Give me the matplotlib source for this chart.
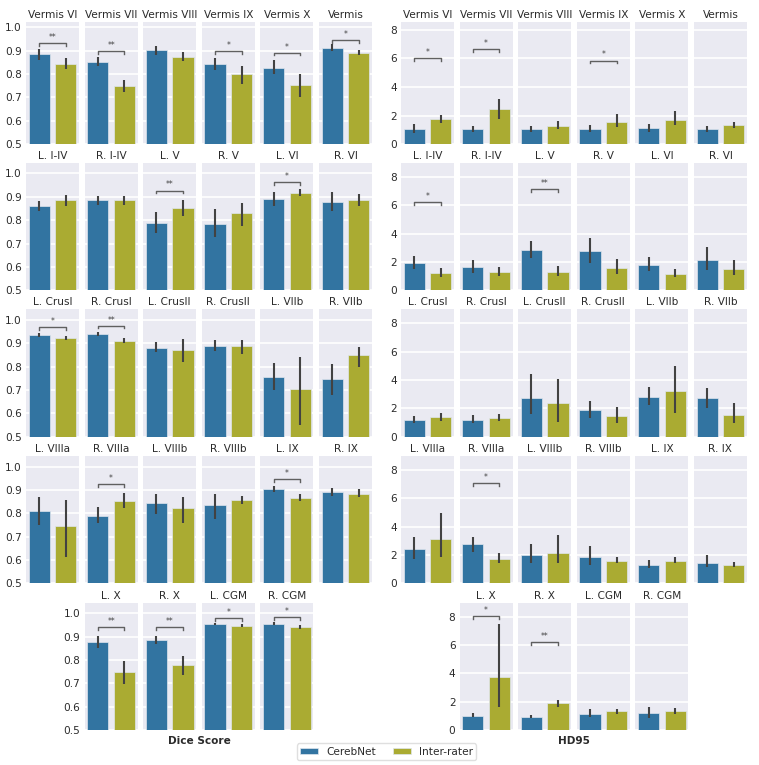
import matplotlib
matplotlib.use('Agg')
import matplotlib.pyplot as plt
from matplotlib.patches import Patch

# region order: 5 rows of 6, last row has 4
regions = ['Vermis VI', 'Vermis VII', 'Vermis VIII', 'Vermis IX', 'Vermis X', 'Vermis',
           'L. I-IV', 'R. I-IV', 'L. V', 'R. V', 'L. VI', 'R. VI',
           'L. CrusI', 'R. CrusI', 'L. CrusII', 'R. CrusII', 'L. VIIb', 'R. VIIb',
           'L. VIIIa', 'R. VIIIa', 'L. VIIIb', 'R. VIIIb', 'L. IX', 'R. IX',
           'L. X', 'R. X', 'L. CGM', 'R. CGM']

# Dice score: mean, ci low, ci high
dice_cereb = [0.884, 0.851, 0.901, 0.841, 0.827, 0.912,
              0.859, 0.885, 0.787, 0.784, 0.891, 0.878,
              0.936, 0.939, 0.881, 0.889, 0.757, 0.747,
              0.811, 0.789, 0.843, 0.836, 0.903, 0.890,
              0.876, 0.886, 0.954, 0.956]
dice_cereb_lo = [0.858, 0.834, 0.882, 0.819, 0.799, 0.898,
                 0.841, 0.865, 0.747, 0.727, 0.862, 0.839,
                 0.929, 0.931, 0.864, 0.869, 0.700, 0.679,
                 0.750, 0.760, 0.797, 0.776, 0.891, 0.874,
                 0.850, 0.869, 0.949, 0.950]
dice_cereb_hi = [0.905, 0.872, 0.918, 0.867, 0.858, 0.928,
                 0.881, 0.905, 0.833, 0.848, 0.920, 0.920,
                 0.946, 0.949, 0.907, 0.914, 0.817, 0.811,
                 0.869, 0.829, 0.881, 0.881, 0.917, 0.910,
                 0.904, 0.903, 0.961, 0.963]
dice_inter = [0.841, 0.748, 0.871, 0.799, 0.752, 0.891,
              0.885, 0.885, 0.853, 0.829, 0.917, 0.888,
              0.921, 0.911, 0.871, 0.887, 0.703, 0.850,
              0.746, 0.853, 0.821, 0.857, 0.864, 0.883,
              0.750, 0.779, 0.946, 0.940]
dice_inter_lo = [0.821, 0.722, 0.854, 0.759, 0.703, 0.880,
                 0.862, 0.866, 0.820, 0.776, 0.902, 0.859,
                 0.914, 0.903, 0.821, 0.854, 0.550, 0.797,
                 0.614, 0.823, 0.760, 0.840, 0.854, 0.869,
                 0.697, 0.736, 0.940, 0.933]
dice_inter_hi = [0.867, 0.776, 0.894, 0.833, 0.799, 0.904,
                 0.909, 0.902, 0.885, 0.874, 0.934, 0.914,
                 0.931, 0.921, 0.917, 0.914, 0.840, 0.886,
                 0.857, 0.886, 0.871, 0.876, 0.883, 0.903,
                 0.797, 0.817, 0.953, 0.949]
dice_sig_regions = ['Vermis VI', 'Vermis VII', 'Vermis IX', 'Vermis X', 'Vermis',
                    'L. V', 'L. VI', 'L. CrusI', 'R. CrusI', 'R. VIIIa', 'L. IX',
                    'L. X', 'R. X', 'L. CGM', 'R. CGM']
dice_sig_marks = ['**', '**', '*', '*', '*', '**', '*', '*', '**', '*', '*',
                  '**', '**', '*', '*']
dice_sig_level = [0.932, 0.898, 0.898, 0.891, 0.943, 0.927, 0.964, 0.969, 0.976,
                  0.926, 0.946, 0.940, 0.940, 0.979, 0.983]

# HD95
hd_cereb = [1.10, 1.05, 1.05, 1.10, 1.12, 1.05,
            1.93, 1.65, 2.82, 2.75, 1.76, 2.12,
            1.18, 1.18, 2.71, 1.88, 2.82, 2.71,
            2.40, 2.75, 2.00, 1.88, 1.29, 1.46,
            1.01, 0.94, 1.13, 1.18]
hd_cereb_lo = [0.80, 0.84, 0.84, 0.89, 0.84, 0.84,
               1.51, 1.22, 2.28, 1.93, 1.34, 1.41,
               0.94, 0.94, 1.60, 1.29, 2.26, 2.05,
               1.69, 2.24, 1.46, 1.29, 1.06, 1.13,
               0.89, 0.85, 0.89, 0.82]
hd_cereb_hi = [1.40, 1.31, 1.29, 1.33, 1.45, 1.29,
               2.45, 2.12, 3.48, 3.69, 2.35, 3.06,
               1.46, 1.53, 4.42, 2.54, 3.48, 3.46,
               3.29, 3.25, 2.78, 2.66, 1.65, 2.00,
               1.18, 1.06, 1.48, 1.60]
hd_inter = [1.78, 2.43, 1.29, 1.59, 1.71, 1.36,
            1.22, 1.29, 1.29, 1.58, 1.18, 1.51,
            1.36, 1.32, 2.35, 1.46, 3.22, 1.53,
            3.11, 1.72, 2.16, 1.60, 1.60, 1.29,
            3.72, 1.88, 1.32, 1.36]
hd_inter_lo = [1.50, 1.80, 1.10, 1.22, 1.33, 1.17,
               0.94, 1.04, 1.04, 1.18, 0.94, 1.11,
               1.13, 1.13, 1.06, 0.99, 1.69, 0.99,
               1.84, 1.41, 1.41, 1.41, 1.41, 1.13,
               1.60, 1.60, 1.13, 1.13]
hd_inter_hi = [2.04, 3.16, 1.61, 2.11, 2.34, 1.57,
               1.58, 1.62, 1.69, 2.21, 1.51, 2.12,
               1.69, 1.58, 4.05, 2.12, 4.99, 2.40,
               4.94, 2.16, 3.41, 1.84, 1.84, 1.48,
               7.48, 2.12, 1.48, 1.58]
hd_sig_regions = ['Vermis VI', 'Vermis VII', 'Vermis IX', 'L. I-IV', 'L. V',
                  'R. VIIIa', 'L. X', 'R. X']
hd_sig_marks = ['*', '*', '*', '*', '**', '*', '*', '**']
hd_sig_level = [6.01, 6.67, 5.85, 6.24, 7.15, 7.06, 8.05, 6.19]

methods = ['CerebNet', 'Inter-rater']
colors = ['#3274a1', '#aaab32']
bg = '#eaeaf2'
errc = '#424242'
txt = '#2b2b2b'

W, H = 759, 765
fig = plt.figure(figsize=(W / 100, H / 100), dpi=100)

# pixel layout of the grid
row_top = [21.7, 162.7, 309.3, 456.0, 602.7]
row_bot = [144.3, 290.3, 436.7, 583.3, 730.0]
col_w = 53
pitch = 58.6


def draw_panel(x0, means, los, his, sig_regions, sig_marks, sig_level,
               ylim0, ytop_first, ytop, yticks, yfmt):
    for i, name in enumerate(regions):
        r, c = divmod(i, 6)
        if r == 4:
            c += 1
        left = x0 + c * pitch
        ax = fig.add_axes([left / W, 1 - row_bot[r] / H, col_w / W,
                           (row_bot[r] - row_top[r]) / H])
        ax.set_facecolor(bg)
        for s in ax.spines.values():
            s.set_visible(False)
        ax.grid(axis='y', color='white', lw=1.2)
        ax.set_axisbelow(True)
        vals = [means[0][i], means[1][i]]
        ax.bar([0, 1], vals, width=0.8, color=colors, edgecolor='#dfe6ee',
               linewidth=0.5)
        ax.vlines([0, 1], [los[0][i], los[1][i]], [his[0][i], his[1][i]],
                  color=errc, lw=1.5, zorder=3)
        ax.set_xlim(-0.5, 1.5)
        top = ytop_first if r == 0 else ytop
        ax.set_ylim(ylim0, top)
        ax.set_yticks(yticks)
        ax.set_xticks([])
        first = (c == 0) or (r == 4 and c == 1)
        if first:
            ax.set_yticklabels([yfmt.format(t) for t in yticks], fontsize=7.6,
                               color=txt)
        else:
            ax.set_yticklabels([])
        ax.tick_params(axis='y', length=0, pad=3)
        ax.set_title(name, fontsize=7.6, pad=3, color=txt)
        if name in sig_regions:
            k = sig_regions.index(name)
            h = sig_level[k]
            d = 0.022 * (ytop - ylim0)
            ax.plot([0, 0, 1, 1], [h - d, h, h, h - d], color='#606060', lw=1.0)
            ax.text(0.5, h + 0.4 * d, sig_marks[k], ha='center', va='bottom',
                    fontsize=5.5, color='#404040')


draw_panel(26.0, (dice_cereb, dice_inter), (dice_cereb_lo, dice_inter_lo),
           (dice_cereb_hi, dice_inter_hi), dice_sig_regions, dice_sig_marks,
           dice_sig_level, 0.5, 1.023, 1.046,
           [0.5, 0.6, 0.7, 0.8, 0.9, 1.0], '{:.1f}')
draw_panel(401.0, (hd_cereb, hd_inter), (hd_cereb_lo, hd_inter_lo),
           (hd_cereb_hi, hd_inter_hi), hd_sig_regions, hd_sig_marks,
           hd_sig_level, 0, 8.56, 9.0, [0, 2, 4, 6, 8], '{:d}')

fig.text(199 / W, 1 - 741 / H, 'Dice Score', fontsize=7.6, fontweight='bold',
         ha='center', va='center', color=txt)
fig.text(574 / W, 1 - 741 / H, 'HD95', fontsize=7.6, fontweight='bold',
         ha='center', va='center', color=txt)

handles = [Patch(facecolor=colors[0], edgecolor='#dfe6ee', linewidth=0.5),
           Patch(facecolor=colors[1], edgecolor='#dfe6ee', linewidth=0.5)]
leg = fig.legend(handles, methods, loc='lower center',
                 bbox_to_anchor=(386.5 / W, 0.0),
                 ncol=2, fontsize=7.6, frameon=True, edgecolor='#d8d8d8',
                 handlelength=1.7, handleheight=0.45, handletextpad=0.8,
                 columnspacing=1.6, borderpad=0.3, fancybox=True)
for t in leg.get_texts():
    t.set_color(txt)

fig.savefig('out.png', dpi=100, facecolor='white')
